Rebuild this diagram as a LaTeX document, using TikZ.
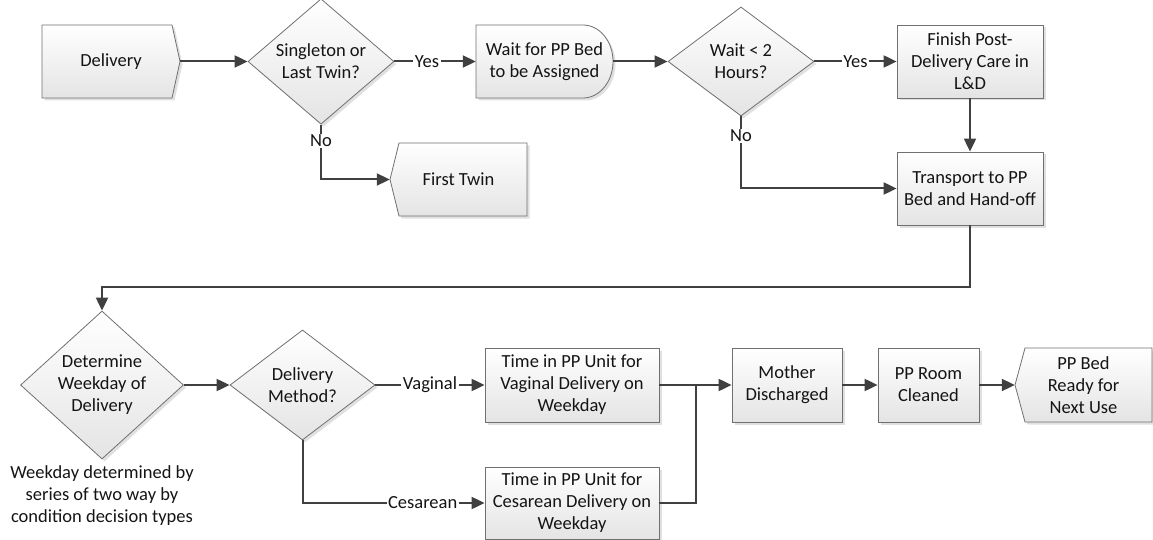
\documentclass[tikz,border=0pt]{standalone}
\usepackage{fontspec}
\setmainfont{Carlito}
\usetikzlibrary{arrows.meta,shapes.geometric,shadows,backgrounds,calc}
\definecolor{conncol}{HTML}{404040}
\definecolor{bord}{HTML}{707070}
\definecolor{shd}{HTML}{E0E0E0}
\definecolor{txt}{HTML}{141414}
\definecolor{boxbot}{HTML}{E4E4E4}
\tikzset{
  base/.style={font=\fontsize{18.5}{22}\selectfont, text=txt, align=center, inner sep=0pt},
  box/.style={base, rectangle, draw=bord, line width=0.8pt, top color=white, bottom color=boxbot,
    drop shadow={shadow xshift=2.5pt, shadow yshift=-2.5pt, fill=shd, opacity=1}},
  decision/.style={box, diamond},
  plain/.style={base, rectangle},
  outline/.style={draw=bord, line width=0.8pt, top color=white, bottom color=boxbot},
  shadowfill/.style={fill=shd},
  conn/.style={draw=conncol, line width=2pt, -{Triangle[length=13pt,width=12pt]}},
  plainline/.style={draw=conncol, line width=2pt},
  lab/.style={base, fill=white, inner xsep=1.5pt, inner ysep=1pt},
}
% pointer to the right: style, offset, left, top, right, bottom, depth
\newcommand\shapeRight[7]{%
  \path[#1] ({#3+#2},{#4+#2}) -- ({#5-#7+#2},{#4+#2}) -- ({#5+#2},{(#4+#6)/2+#2})
    -- ({#5-#7+#2},{#6+#2}) -- ({#3+#2},{#6+#2}) -- cycle;}
% pointer to the left
\newcommand\shapeLeft[7]{%
  \path[#1] ({#3+#7+#2},{#4+#2}) -- ({#5+#2},{#4+#2}) -- ({#5+#2},{#6+#2})
    -- ({#3+#7+#2},{#6+#2}) -- ({#3+#2},{(#4+#6)/2+#2}) -- cycle;}
% delay shape: style, offset, left, top, right, bottom, arc depth
\newcommand\shapeDelay[7]{%
  \path[#1] ({#3+#2},{#4+#2}) -- ({#5-#7+#2},{#4+#2})
    arc[start angle=-90, end angle=90, x radius=#7, y radius={(#6-#4)/2}]
    -- ({#3+#2},{#6+#2}) -- cycle;}
\begin{document}
\begin{tikzpicture}[x=1pt,y=-1pt]
\useasboundingbox (0,0) rectangle (1153,540);

% top row
\node[plain, minimum width=138pt, minimum height=73pt] (del) at (111,61.5) {Delivery};
\node[decision, minimum width=146pt, minimum height=109pt] (d1) at (321,61.5) {Singleton or\\Last Twin?};
\node[plain, minimum width=137pt, minimum height=73pt] (wait) at (544.5,61.5) {Wait for PP Bed\\to be Assigned};
\node[decision, minimum width=146pt, minimum height=109pt] (d2) at (741,61.5) {Wait < 2\\Hours?};
\node[box, minimum width=146pt, minimum height=73pt] (fin) at (970,61.5) {Finish Post-\\Delivery Care in\\L\&D};
\node[plain, minimum width=137pt, minimum height=73pt] (ft) at (458.5,179.5) {First Twin};
\node[box, minimum width=146pt, minimum height=73pt] (tr) at (970,188.5) {Transport to PP\\Bed and Hand-off};

% bottom row
\node[decision, minimum width=163pt, minimum height=124pt] (wk) at (102,385) {Determine\\Weekday of\\Delivery};
\node[decision, minimum width=145pt, minimum height=110pt] (dm) at (302.5,385) {Delivery\\Method?};
\node[box, minimum width=174pt, minimum height=74pt] (vag) at (572,385) {Time in PP Unit for\\Vaginal Delivery on\\Weekday};
\node[box, minimum width=174pt, minimum height=72pt] (ces) at (572,503) {Time in PP Unit for\\Cesarean Delivery on\\Weekday};
\node[box, minimum width=110pt, minimum height=74pt] (md) at (787,385) {Mother\\Discharged};
\node[box, minimum width=101pt, minimum height=74pt] (room) at (928.5,385) {PP Room\\Cleaned};
\node[plain, minimum width=137pt, minimum height=74pt] (bed) at (1083.5,385) {PP Bed\\Ready for\\Next Use};
\node[base] (note) at (102,496) {Weekday determined by\\series of two way by\\condition decision types};

% custom outlines behind the text
\begin{pgfonlayer}{background}
  \shapeRight{shadowfill}{2.5}{42}{25}{180}{98}{8}
  \shapeRight{outline}{0}{42}{25}{180}{98}{8}
  \shapeDelay{shadowfill}{2.5}{476}{25}{613}{98}{30}
  \shapeDelay{outline}{0}{476}{25}{613}{98}{30}
  \shapeLeft{shadowfill}{2.5}{390}{143}{527}{216}{9}
  \shapeLeft{outline}{0}{390}{143}{527}{216}{9}
  \shapeLeft{shadowfill}{2.5}{1015}{348}{1152}{422}{10}
  \shapeLeft{outline}{0}{1015}{348}{1152}{422}{10}
\end{pgfonlayer}

% connectors
\draw[conn] (del.east) -- (d1.west);
\draw[conn] (d1.east) -- node[lab, pos=0.4] {Yes} (wait.west);
\draw[conn] (d1.south) -- node[lab, pos=0.3] {No} (d1.south |- ft.west) -- (ft.west);
\draw[conn] (wait.east) -- (d2.west);
\draw[conn] (d2.east) -- node[lab] {Yes} (fin.west);
\draw[conn] (d2.south) -- node[lab, pos=0.27] {No} (d2.south |- tr.west) -- (tr.west);
\draw[conn] (fin.south) -- (tr.north);
\coordinate (loop) at (970,287);
\draw[conn] (tr.south) -- (loop) -| (wk.north);
\draw[conn] (wk.east) -- (dm.west);
\draw[conn] (dm.east) -- node[lab] {Vaginal} (vag.west);
\draw[conn] (dm.south) |- node[lab, pos=0.83] {Cesarean} (ces.west);
\coordinate (join) at (696,385);
\draw[conn] (vag.east) -- (md.west);
\draw[plainline] (ces.east) -| (join);
\draw[conn] (md.east) -- (room.west);
\draw[conn] (room.east) -- (bed.west);
\end{tikzpicture}
\end{document}
